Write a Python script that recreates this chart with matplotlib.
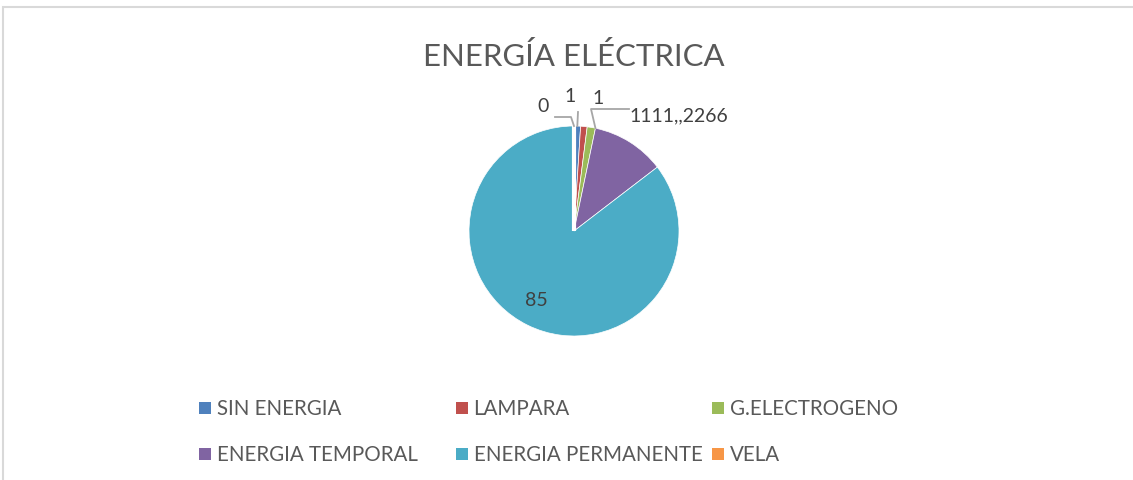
"""
Pie chart: ENERGIA ELECTRICA
"""
import numpy as np
import matplotlib
matplotlib.use("Agg")
import matplotlib.pyplot as plt
from matplotlib.patches import Rectangle
from matplotlib.lines import Line2D

# data
categories = ["SIN ENERGIA", "LAMPARA", "G.ELECTROGENO",
              "ENERGIA TEMPORAL", "ENERGIA PERMANENTE", "VELA"]
values = [1, 1, 1.26, 11.26, 85, 0]
# labels as printed in the original (green and purple labels overlap there)
value_labels = ["1", "1", "1111,,2266", "", "85", "0"]
colors = ["#4F81BD", "#C0504D", "#9BBB59", "#8064A2", "#4BACC6", "#F79646"]
title = "ENERGÍA ELÉCTRICA"

W, H = 1133, 481
plt.rcParams['font.family'] = ['Lato', 'DejaVu Sans']


def fxy(px, py):
    # pixel position (from top left) -> figure fraction
    return px / W, 1 - py / H


fig = plt.figure(figsize=(W / 100, H / 100), dpi=100)

# chart area border (only top and left visible in the crop)
fig.add_artist(Rectangle(fxy(3, 495), (W + 20) / W, (495 - 8) / H,
                         transform=fig.transFigure, fill=False,
                         ec="#D9D9D9", lw=1.5))

fig.text(*fxy(574, 57), title, ha="center", va="center",
         fontsize=22.4, color="#595959")

# pie
cx, cy, r = 574, 232, 105
ax = fig.add_axes([(cx - r) / W, (H - cy - r) / H, 2 * r / W, 2 * r / H])
wedges, _ = ax.pie(values, colors=colors, startangle=90, counterclock=False,
                   radius=1, wedgeprops=dict(edgecolor="white", linewidth=0.5))
# the empty VELA slice leaves a white seam at 12 o'clock
wedges[-1].set_linewidth(3)
wedges[-1].set_zorder(5)
ax.set_xlim(-1, 1)
ax.set_ylim(-1, 1)
ax.axis("off")

to_fig = ax.transData + fig.transFigure.inverted()


def edge_point(w, frac=0.5):
    ang = np.deg2rad(w.theta1 + frac * (w.theta2 - w.theta1))
    return to_fig.transform((np.cos(ang), np.sin(ang)))


lab_color = "#404040"
lab_size = 14
lead = "#A6A6A6"

# label positions (pixels) and leader elbows
label_pos = {0: (570, 97), 1: (598, 99), 2: (629, 116), 4: (536, 300), 5: (543, 107)}
leaders = {0: [(578, 113)],
           2: [(629, 110), (591, 110)],
           5: [(555, 118), (571, 118)]}
leader_frac = {0: 0.5, 2: 0.0, 5: 0.5}

for i, txt in enumerate(value_labels):
    if not txt:
        continue
    px, py = label_pos[i]
    ha = "left" if i == 2 else "center"
    fig.text(*fxy(px, py), txt, ha=ha, va="center", fontsize=lab_size,
             color=lab_color)
    if i in leaders:
        pts = [fxy(*p) for p in leaders[i]] + [tuple(edge_point(wedges[i], leader_frac[i]))]
        xs, ys = zip(*pts)
        fig.add_artist(Line2D(xs, ys, transform=fig.transFigure,
                              color=lead, lw=1.3))

# legend, 3 equal columns like the original
for i, (cat, col) in enumerate(zip(categories, colors)):
    row, c = divmod(i, 3)
    x0 = 199 + c * 256.5
    yc = 409 + row * 46
    fig.add_artist(Rectangle(fxy(x0, yc + 6), 12 / W, 12 / H,
                             transform=fig.transFigure, color=col, lw=0))
    fig.text(*fxy(x0 + 18, yc), cat, ha="left", va="center",
             fontsize=14.8, color="#595959")

plt.savefig("out.png", dpi=100)
